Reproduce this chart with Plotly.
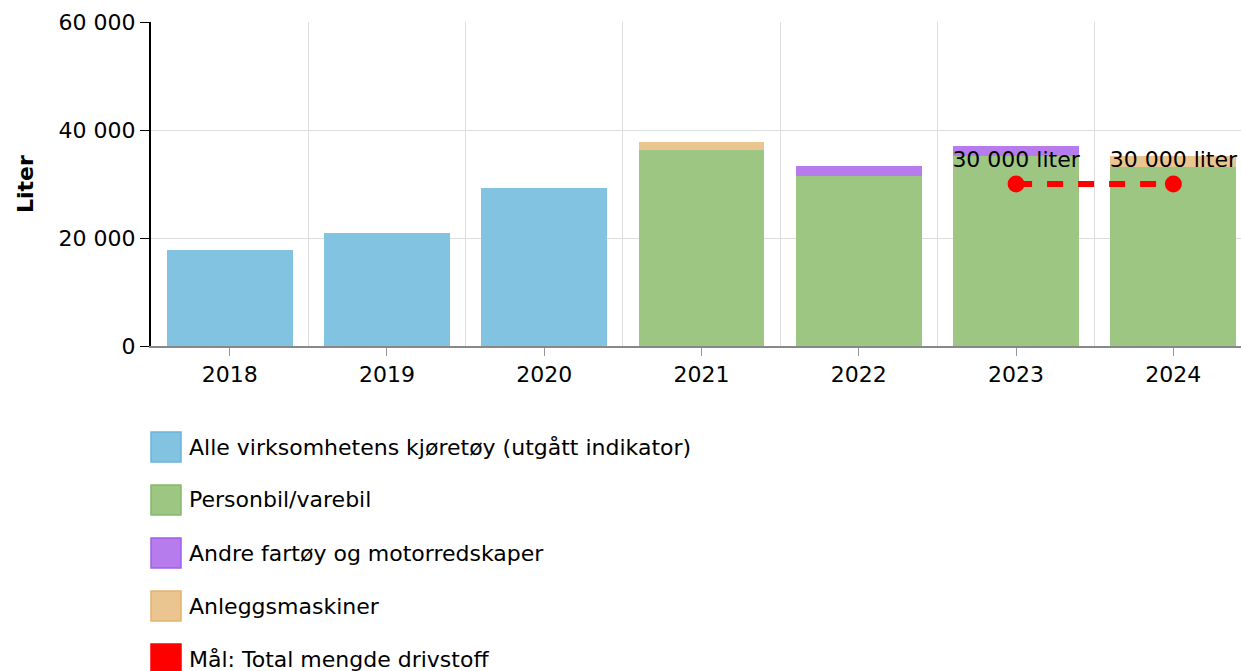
import plotly.graph_objects as go

# ---- data ----
years = ["2018", "2019", "2020", "2021", "2022", "2023", "2024"]
alle_kjoretoy = [17800, 20900, 29300, None, None, None, None]
personbil = [None, None, None, 36300, 31500, 35100, 33200]
andre_fartoy = [None, None, None, 0, 1800, 2000, 0]
anleggsmaskiner = [None, None, None, 1500, 0, 0, 1900]
maal = [None, None, None, None, None, 30000, 30000]

names = [
    "Alle virksomhetens kjøretøy (utgått indikator)",
    "Personbil/varebil",
    "Andre fartøy og motorredskaper",
    "Anleggsmaskiner",
    "Mål: Total mengde drivstoff",
]
colors = ["#82c3e2", "#9dc682", "#b67cee", "#ebc58f", "#ff0000"]
borders = ["#6ab4dc", "#86b86a", "#a35fe8", "#e4b26e", "#ff0000"]

FONT = "DejaVu Sans"
FS = 22
xpos = list(range(len(years)))

fig = go.Figure()
bar_series = [alle_kjoretoy, personbil, andre_fartoy, anleggsmaskiner]
for i, vals in enumerate(bar_series):
    fig.add_trace(go.Bar(
        x=xpos, y=vals, name=names[i],
        marker=dict(color=colors[i], line=dict(width=0)),
        showlegend=False,
    ))

fig.add_trace(go.Scatter(
    x=xpos, y=maal, name=names[4], mode="lines+markers+text",
    line=dict(color=colors[4], width=6, dash="16px,15px"),
    marker=dict(color=colors[4], size=17),
    texttemplate="%{y:,} liter", textposition="top center",
    textfont=dict(family=FONT, size=FS, color="#000"),
    cliponaxis=False, showlegend=False,
))

# manual legend (large swatches); rows given in pixels
plot_h = 324.0
plot_bottom = 346
row_py = [447, 500, 553, 606, 659]
shapes = []
annotations = []
for i, nm in enumerate(names):
    yp = (plot_bottom - row_py[i]) / plot_h
    shapes.append(dict(
        type="rect", xref="paper", yref="paper",
        xsizemode="pixel", ysizemode="pixel",
        xanchor=0, yanchor=yp, x0=0, x1=30, y0=-15, y1=15,
        fillcolor=colors[i], line=dict(color=borders[i], width=1.5),
    ))
    annotations.append(dict(
        text=nm, xref="paper", yref="paper", x=0, y=yp,
        xanchor="left", yanchor="middle", xshift=36, showarrow=False,
        font=dict(family=FONT, size=FS, color="#000"),
    ))

annotations.append(dict(
    text="<b>Liter</b>", xref="paper", yref="paper", x=0, y=0.5,
    xanchor="center", yanchor="middle", xshift=-126, textangle=-90,
    showarrow=False, font=dict(family=FONT, size=FS, color="#000"),
))

fig.update_layout(
    width=1241, height=671,
    margin=dict(l=151, r=0, t=22, b=325, autoexpand=False),
    barmode="stack", bargap=0.2,
    plot_bgcolor="white", paper_bgcolor="white",
    separators=", ",
    font=dict(family=FONT, size=FS, color="#000"),
    shapes=shapes, annotations=annotations,
    showlegend=False,
)
fig.update_xaxes(
    range=[-0.5, 6.43], automargin=False,
    tickmode="array", tickvals=xpos, ticktext=years,
    showgrid=False, ticks="outside", ticklen=8, tickcolor="#999",
    showline=True, linecolor="#888", linewidth=1.5,
    tickfont=dict(family=FONT, size=FS, color="#000"),
    minor=dict(tickmode="linear", tick0=0.5, dtick=1, showgrid=True,
               gridcolor="#dddddd", gridwidth=1, ticks=""),
    zeroline=False,
)
fig.update_yaxes(
    range=[0, 60000], dtick=20000, tickformat=",", automargin=False,
    showgrid=True, gridcolor="#dddddd", gridwidth=1,
    ticks="outside", ticklen=9, tickcolor="#000",
    showline=True, linecolor="#000", linewidth=2,
    zeroline=False,
    tickfont=dict(family=FONT, size=FS, color="#000"),
)

fig.write_html(
    "out.html",
    config={"displayModeBar": False},
    post_script="document.body.style.margin='0';document.body.style.overflow='hidden';",
)
